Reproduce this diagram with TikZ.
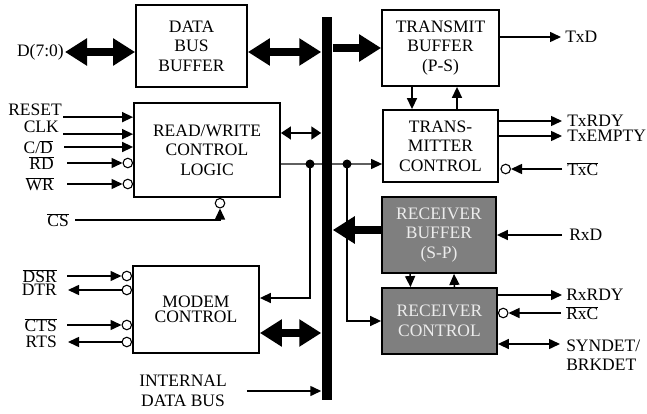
\documentclass[tikz,border=0pt]{standalone}
\usepackage{fontspec}
\setmainfont{Liberation Serif}
\usetikzlibrary{arrows.meta}

\newcommand{\ovl}[1]{$\overline{\mbox{#1}}$}
\definecolor{rxgray}{RGB}{127,127,127}
\definecolor{rxtext}{RGB}{236,236,236}
\definecolor{wiregray}{RGB}{95,95,95}

\tikzset{
  box/.style={draw, line width=1.8pt, align=center, inner sep=0pt},
  rxbox/.style={box, fill=rxgray, text=rxtext},
  lbl/.style={inner sep=0.5pt},
  bub/.style={circle, draw, line width=1.1pt, fill=white, inner sep=0pt, minimum size=9.5pt},
  fat/.style={line width=8pt},
  big/.tip={Triangle[length=22pt,width=26pt]},
}

\begin{document}
\begin{tikzpicture}[x=1pt, y=-1pt, line width=1.5pt, >={Triangle[length=11pt,width=10pt]},
  every node/.style={font=\fontsize{17.5}{19.5}\selectfont}]

    \useasboundingbox (0,0) rectangle (647,414);

    % blocks
    \node[box, minimum width=111pt, minimum height=82pt] (dbb) at (191.5,46) {DATA\\BUS\\BUFFER};
    \node[box, minimum width=146pt, minimum height=94pt] (rwl) at (207,150) {READ/WRITE\\CONTROL\\LOGIC};
    \node[box, minimum width=126pt, minimum height=87pt] (modem) at (196,309.5) {MODEM\\[-4pt]CONTROL};
    \node[box, minimum width=117pt, minimum height=76pt] (txbuf) at (440.5,48) {TRANSMIT\\BUFFER\\(P-S)};
    \node[box, minimum width=115pt, minimum height=72pt] (txctl) at (440.5,146) {TRANS-\\MITTER\\CONTROL};
    \node[rxbox, minimum width=114pt, minimum height=76pt] (rxbuf) at (439,235) {RECEIVER\\BUFFER\\(S-P)};
    \node[rxbox, minimum width=115pt, minimum height=66pt] (rxctl) at (439.5,321) {RECEIVER\\CONTROL};

    % control line through the bus
    \coordinate (ja) at (310,164);
    \coordinate (jb) at (347,164);
    \draw[wiregray, line width=1.2pt, -{Triangle[length=11pt,width=10pt,color=black]}] (rwl.east |- ja) -- (txctl.west |- ja);
    \draw[->] (ja) |- ([yshift=11.5pt]modem.east);
    \draw[->] (jb) |- (rxctl.west);
    \fill (ja) circle (4.5pt);
    \fill (jb) circle (4.5pt);

    % internal bus
    \node[fill, inner sep=0pt, minimum width=10pt, minimum height=383pt] (bus) at (327,208.5) {};

    \node[lbl, anchor=east] (d70) at (65,52) {D(7:0)};
    \draw[fat, big-big] (d70) -- (dbb.west |- d70);
    \draw[fat, big-big] (dbb.east |- d70) -- (bus.west |- d70);
    \draw[fat, -big] (bus.east |- txbuf.west) -- (txbuf.west);
    \draw[fat, -big] ([yshift=5pt]rxbuf.west) -- ([yshift=5pt]rxbuf.west -| bus.east);
    \draw[fat, big-big] ([yshift=-23.5pt]modem.east) -- ([yshift=-23.5pt]modem.east -| bus.west);
    \draw[{Triangle[length=10pt,width=13pt]}-{Triangle[length=10pt,width=13pt]}] ([yshift=17pt]rwl.east) -- ([yshift=17pt]rwl.east -| bus.west);

    % read/write inputs
    \node[lbl, anchor=east] (reset) at (63,110) {RESET};
    \node[lbl, anchor=east] (clk) at (60,127) {CLK};
    \node[lbl, anchor=east] (cd) at (54,147) {C/\ovl{D}};
    \node[lbl, anchor=east] (rd) at (55,163) {\ovl{RD}};
    \node[lbl, anchor=east] (wr) at (55,184) {\ovl{WR}};
    \node[bub, anchor=east] (brd) at (rd -| rwl.west) {};
    \node[bub, anchor=east] (bwr) at (wr -| rwl.west) {};
    \draw[->] (reset.south east) -- (reset.south east -| rwl.west);
    \draw[->] ([xshift=3pt]clk.south east) -- (clk.south east -| rwl.west);
    \draw[->, shorten <=10pt] (cd) -- (cd -| rwl.west);
    \draw[->, shorten <=12pt] (rd) -- (brd);
    \draw[->, shorten <=12pt] (wr) -- (bwr);

    \node[lbl, anchor=east] (cs) at (70,220) {\ovl{CS}};
    \node[bub, anchor=north] (bcs) at ([xshift=13pt]rwl.south) {};
    \draw[->, shorten <=5pt] (cs) -| (bcs);

    % modem lines
    \node[lbl, anchor=east] (dsr) at (58,276) {\ovl{DSR}};
    \node[lbl, anchor=east] (dtr) at (58,290) {DTR};
    \node[lbl, anchor=east] (cts) at (58,325) {\ovl{CTS}};
    \node[lbl, anchor=east] (rts) at (58,342) {RTS};
    \node[bub, anchor=east] (bdsr) at (dsr -| modem.west) {};
    \node[bub, anchor=east] (bdtr) at (dtr -| modem.west) {};
    \node[bub, anchor=east] (bcts) at (cts -| modem.west) {};
    \node[bub, anchor=east] (brts) at (rts -| modem.west) {};
    \draw[->, shorten <=9pt] (dsr) -- (bdsr);
    \draw[<-, shorten <=10pt] (dtr) -- (bdtr);
    \draw[->, shorten <=9pt] (cts) -- (bcts);
    \draw[<-, shorten <=10pt] (rts) -- (brts);

    \node[align=center] (idb) at (183,391) {INTERNAL\\DATA BUS};
    \draw[->, shorten <=16pt] (idb) -- (idb -| bus.west);

    % transmitter side
    \node[lbl, anchor=west] (txd) at (564,37) {TxD};
    \draw[->, shorten >=3pt] (txd -| txbuf.east) -- (txd);
    \draw[->] ([xshift=-28.5pt]txbuf.south) -- ([xshift=-28.5pt]txctl.north);
    \draw[<-] ([xshift=16.5pt]txbuf.south) -- ([xshift=16.5pt]txctl.north);

    \node[lbl, anchor=west] (txrdy) at (566,121) {TxRDY};
    \node[lbl, anchor=west] (txempty) at (566,136) {TxEMPTY};
    \node[lbl, anchor=west] (txc) at (566,169) {\ovl{TxC}};
    \node[bub, anchor=west] (btxc) at ([xshift=1.5pt]txc -| txctl.east) {};
    \draw[->, shorten >=4pt] (txrdy -| txctl.east) -- (txrdy);
    \draw[->, shorten >=4pt] (txempty -| txctl.east) -- (txempty);
    \draw[->, shorten <=4pt] (txc) -- (btxc);

    % receiver side
    \node[lbl, anchor=west] (rxd) at (568,235) {RxD};
    \draw[->, shorten <=6pt] (rxd) -- (rxd -| rxbuf.east);
    \draw[->] ([xshift=-29pt]rxbuf.south) -- ([xshift=-29pt]rxctl.north);
    \draw[<-] ([xshift=15pt]rxbuf.south) -- ([xshift=15pt]rxctl.north);

    \node[lbl, anchor=west] (rxrdy) at (565,295) {RxRDY};
    \node[lbl, anchor=west] (rxc) at (565,313) {\ovl{RxC}};
    \node[lbl, anchor=west, align=left] (syn) at (565,355) {SYNDET/\\BRKDET};
    \node[bub, anchor=west] (brxc) at (rxc -| rxctl.east) {};
    \draw[->, shorten >=3pt] (rxrdy -| rxctl.east) -- (rxrdy);
    \draw[->, shorten <=4pt] (rxc) -- (brxc);
    \draw[<->, shorten >=5pt] ([yshift=11pt]syn.west -| rxctl.east) -- ([yshift=11pt]syn.west);

\end{tikzpicture}
\end{document}
